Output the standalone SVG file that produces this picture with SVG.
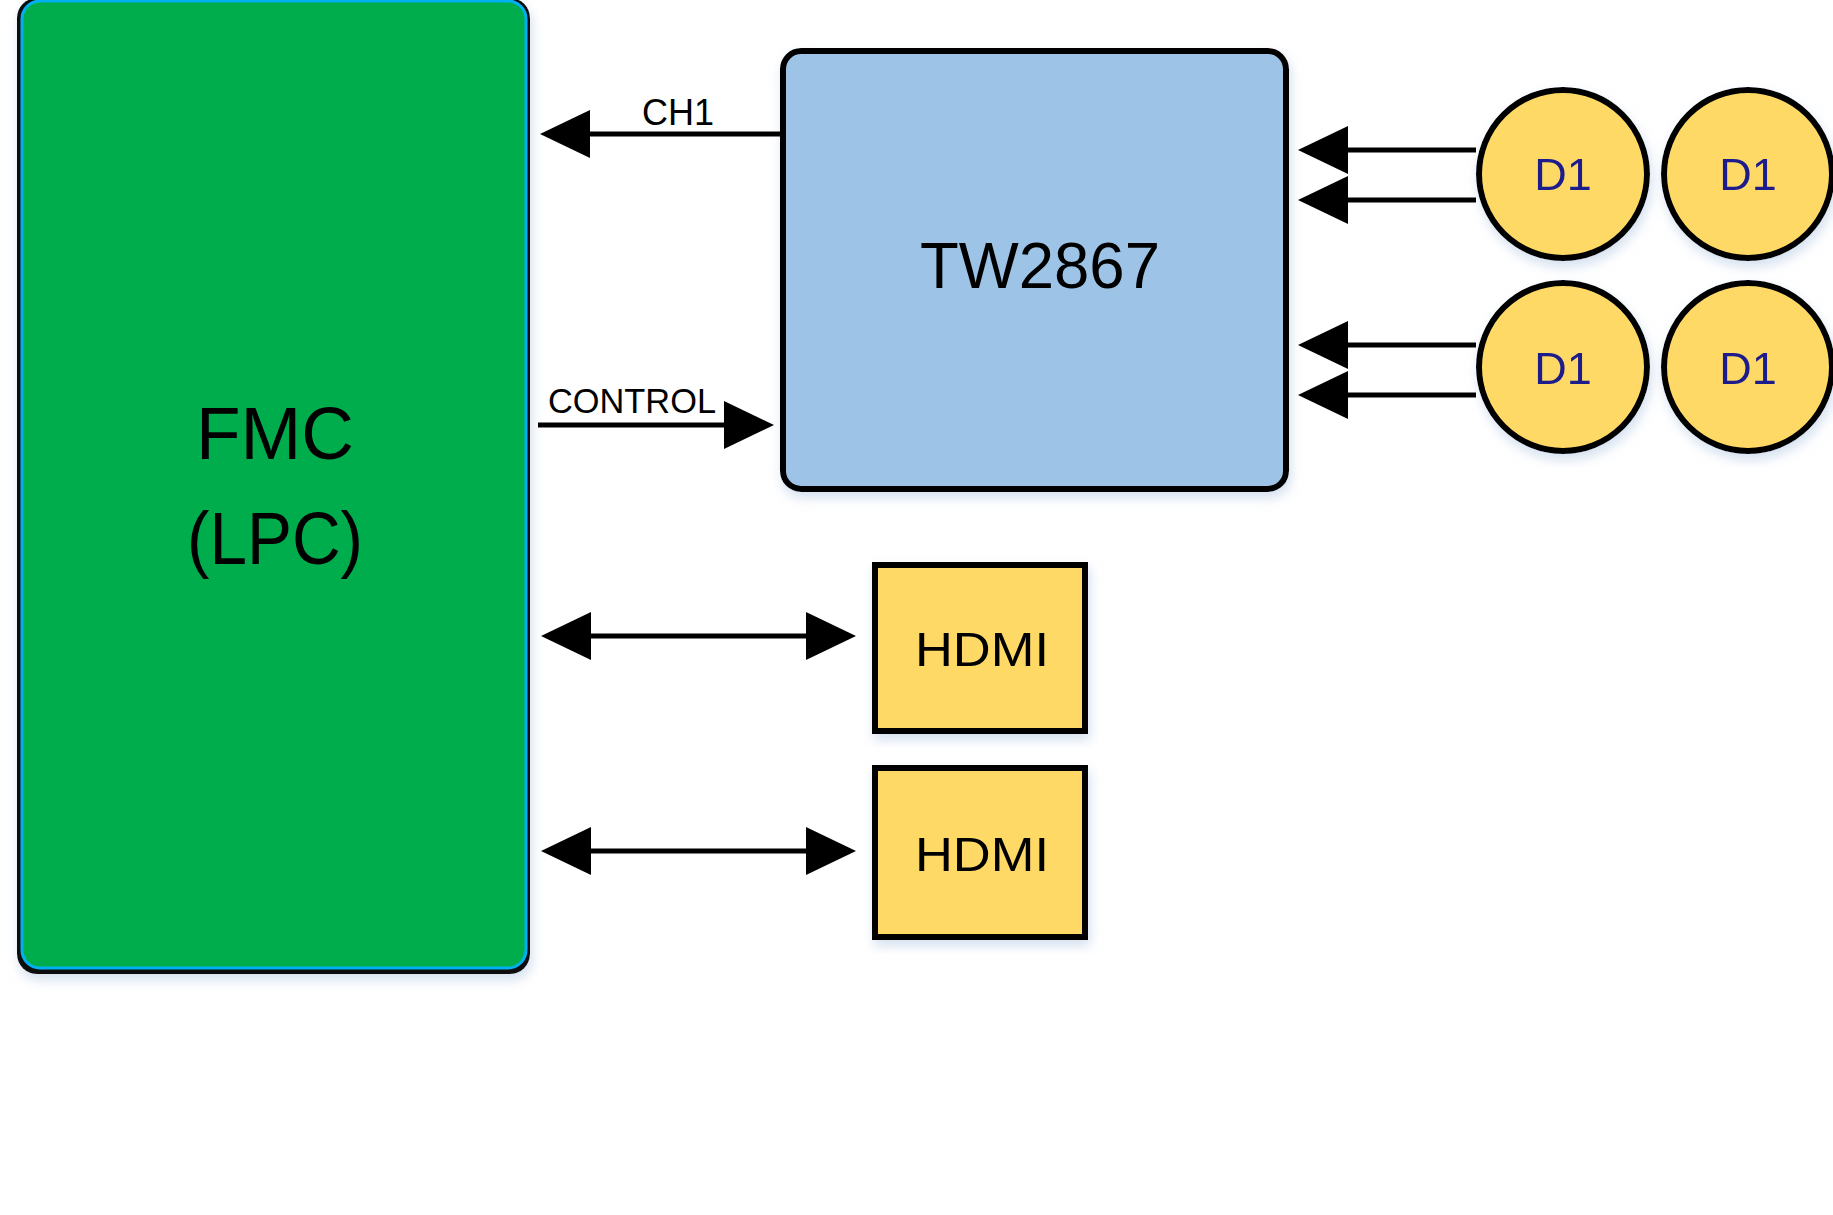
<svg xmlns="http://www.w3.org/2000/svg" width="1833" height="1215" viewBox="0 0 1833 1215">
<style>
.lbl{font-family:"Liberation Sans",Arial,sans-serif;fill:#000}
.conn{stroke:#000;stroke-width:5;fill:none}
.yel{fill:#FFD966;stroke:#000;stroke-width:6}
.d1{font-family:"Liberation Sans",Arial,sans-serif;font-size:45px;fill:#1A1A8C;text-anchor:middle}
</style>
<defs>
<filter id="sh" x="-10%" y="-10%" width="120%" height="120%">
<feGaussianBlur in="SourceAlpha" stdDeviation="6"/>
<feOffset dx="2" dy="6" result="b"/>
<feFlood flood-color="#B8CCE4" flood-opacity="0.6"/>
<feComposite in2="b" operator="in"/>
<feMerge><feMergeNode/><feMergeNode in="SourceGraphic"/></feMerge>
</filter>
<marker id="ah" viewBox="0 0 50 48" refX="20" refY="24" markerWidth="50" markerHeight="48" markerUnits="userSpaceOnUse" orient="auto-start-reverse">
<path d="M0,0 L50,24 L0,48 Z" fill="#000"/>
</marker>
</defs>
<rect width="1833" height="1215" fill="#fff"/>

<g id="fmc" filter="url(#sh)">
<rect x="17" y="-2" width="513" height="976" rx="20" fill="#111"/>
<rect x="22" y="1" width="504" height="967" rx="18" fill="#00AD4E" stroke="#00B0F0" stroke-width="3"/>
<text class="lbl" x="275" y="459" font-size="74" text-anchor="middle" textLength="158" lengthAdjust="spacingAndGlyphs">FMC</text>
<text class="lbl" x="275" y="564" font-size="74" text-anchor="middle" textLength="176" lengthAdjust="spacingAndGlyphs">(LPC)</text>
</g>

<g id="tw2867" filter="url(#sh)">
<rect x="783" y="51" width="503" height="438" rx="18" fill="#9DC3E6" stroke="#000" stroke-width="6"/>
<text class="lbl" x="1040" y="288" font-size="64" text-anchor="middle" textLength="240" lengthAdjust="spacingAndGlyphs">TW2867</text>
</g>

<g id="d1-a" filter="url(#sh)">
<circle class="yel" cx="1563" cy="174" r="84"/>
<text class="d1" x="1563" y="190">D1</text>
</g>
<g id="d1-b" filter="url(#sh)">
<circle class="yel" cx="1748" cy="174" r="84"/>
<text class="d1" x="1748" y="190">D1</text>
</g>
<g id="d1-c" filter="url(#sh)">
<circle class="yel" cx="1563" cy="367" r="84"/>
<text class="d1" x="1563" y="384">D1</text>
</g>
<g id="d1-d" filter="url(#sh)">
<circle class="yel" cx="1748" cy="367" r="84"/>
<text class="d1" x="1748" y="384">D1</text>
</g>

<g id="hdmi-1" filter="url(#sh)">
<rect class="yel" x="875" y="565" width="210" height="166"/>
<text class="lbl" x="982" y="666" font-size="48" text-anchor="middle" textLength="134" lengthAdjust="spacingAndGlyphs">HDMI</text>
</g>
<g id="hdmi-2" filter="url(#sh)">
<rect class="yel" x="875" y="768" width="210" height="169"/>
<text class="lbl" x="982" y="871" font-size="48" text-anchor="middle" textLength="134" lengthAdjust="spacingAndGlyphs">HDMI</text>
</g>

<g id="connectors">
<line class="conn" x1="780" y1="134" x2="570" y2="134" marker-end="url(#ah)"/>
<text class="lbl" x="642" y="125" font-size="36" textLength="72" lengthAdjust="spacingAndGlyphs">CH1</text>
<line class="conn" x1="538" y1="425" x2="744" y2="425" marker-end="url(#ah)"/>
<text class="lbl" x="548" y="413" font-size="35" textLength="168" lengthAdjust="spacingAndGlyphs">CONTROL</text>
<line class="conn" x1="1476" y1="150" x2="1328" y2="150" marker-end="url(#ah)"/>
<line class="conn" x1="1476" y1="200" x2="1328" y2="200" marker-end="url(#ah)"/>
<line class="conn" x1="1476" y1="345" x2="1328" y2="345" marker-end="url(#ah)"/>
<line class="conn" x1="1476" y1="395" x2="1328" y2="395" marker-end="url(#ah)"/>
<line class="conn" x1="571" y1="636" x2="826" y2="636" marker-start="url(#ah)" marker-end="url(#ah)"/>
<line class="conn" x1="571" y1="851" x2="826" y2="851" marker-start="url(#ah)" marker-end="url(#ah)"/>
</g>
</svg>
